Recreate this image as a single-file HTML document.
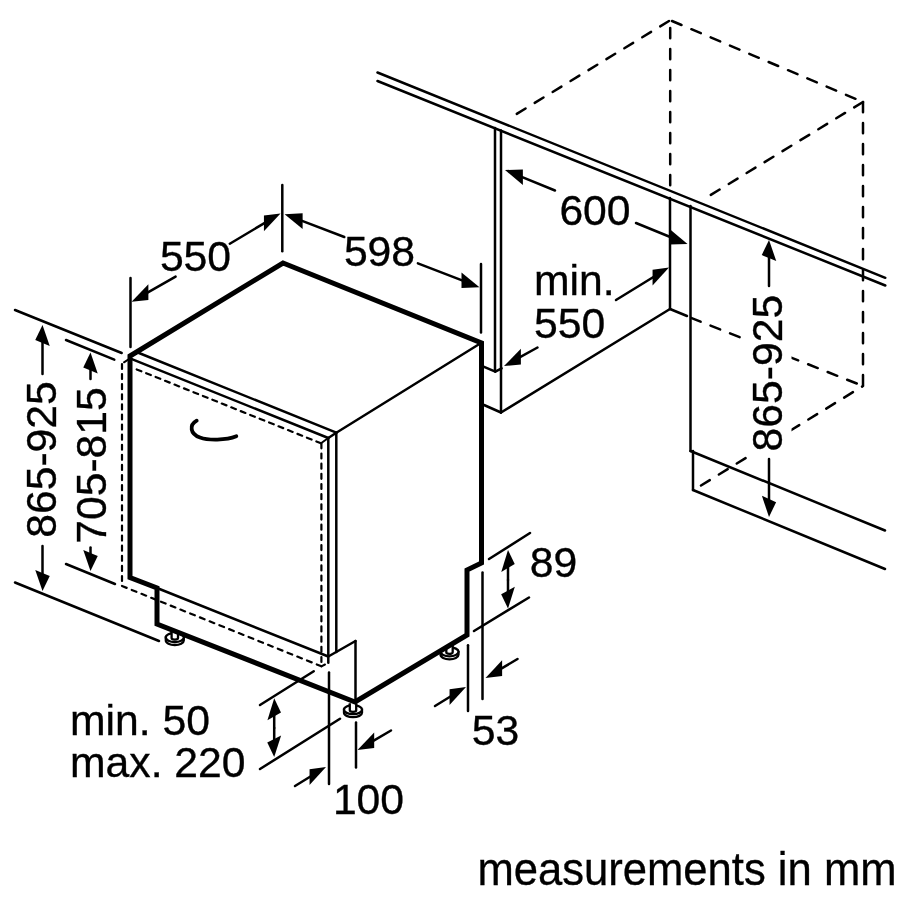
<!DOCTYPE html>
<html><head><meta charset="utf-8"><style>html,body{margin:0;padding:0;background:#fff;}svg{display:block;will-change:transform}</style></head>
<body><svg width="900" height="900" viewBox="0 0 900 900" stroke="#000" fill="#000" font-family="Liberation Sans, sans-serif">
<g fill="none">
</g>
<g>
<line x1="377.5" y1="72.5" x2="885.3" y2="277.8" stroke-width="2.5" stroke-linecap="round"/>
<line x1="377.5" y1="81" x2="885.3" y2="285.5" stroke-width="2.5" stroke-linecap="round"/>
<line x1="495" y1="128" x2="495" y2="371" stroke-width="2.5" stroke-linecap="round"/>
<line x1="501" y1="130.5" x2="501" y2="412.5" stroke-width="2.5" stroke-linecap="round"/>
<line x1="483.5" y1="366.7" x2="495.3" y2="371.6" stroke-width="2.5" stroke-linecap="round"/>
<line x1="495.3" y1="371.6" x2="501.6" y2="368.4" stroke-width="2.5" stroke-linecap="round"/>
<line x1="484" y1="405" x2="501" y2="412.5" stroke-width="2.5" stroke-linecap="round"/>
<line x1="501" y1="412.5" x2="670" y2="309" stroke-width="2.5" stroke-linecap="round"/>
<line x1="670" y1="198" x2="670" y2="309" stroke-width="2.5" stroke-linecap="round"/>
<line x1="670" y1="309" x2="687" y2="316" stroke-width="2.5" stroke-linecap="round"/>
<line x1="690.5" y1="206" x2="690.5" y2="451" stroke-width="2.5" stroke-linecap="round"/>
<line x1="690.5" y1="451" x2="885" y2="530.5" stroke-width="2.5" stroke-linecap="round"/>
<line x1="693" y1="451" x2="693" y2="490" stroke-width="2.5" stroke-linecap="round"/>
<line x1="693" y1="490" x2="885" y2="569" stroke-width="2.5" stroke-linecap="round"/>
<line x1="669" y1="21" x2="514" y2="115.5" stroke-width="2.5" stroke-linecap="round" stroke-dasharray="10.3 10.7"/>
<line x1="672" y1="21" x2="863" y2="102" stroke-width="2.5" stroke-linecap="round" stroke-dasharray="10.3 10.7"/>
<line x1="670.2" y1="28" x2="670.2" y2="190" stroke-width="2.5" stroke-linecap="round" stroke-dasharray="10.3 10.7"/>
<line x1="863" y1="102" x2="863" y2="386" stroke-width="2.5" stroke-linecap="round" stroke-dasharray="10.3 10.7"/>
<line x1="863" y1="102" x2="709" y2="196" stroke-width="2.5" stroke-linecap="round" stroke-dasharray="10.3 10.7"/>
<line x1="701" y1="485.5" x2="863" y2="386" stroke-width="2.5" stroke-linecap="round" stroke-dasharray="10.3 10.7"/>
<line x1="691" y1="317.9" x2="863" y2="386" stroke-width="2.5" stroke-linecap="round" stroke-dasharray="10.3 10.7"/>
<line x1="555" y1="190.5" x2="521.0068579601052" y2="176.5628117636432" stroke-width="2.5" stroke-linecap="round"/>
<polygon points="505,170 522.86,185.12 522.86,169.52" stroke="none"/>
<line x1="636" y1="223" x2="671.4806156530115" y2="237.46782385850952" stroke-width="2.5" stroke-linecap="round"/>
<polygon points="687.5,244 669.63,244.51 669.63,228.91" stroke="none"/>
<text stroke="#000" stroke-width="0.35" x="595" y="224.5" font-size="42.7" text-anchor="middle" >600</text>
<line x1="616" y1="300" x2="654.2519983232614" y2="276.54358593384916" stroke-width="2.5" stroke-linecap="round"/>
<polygon points="669,267.5 652.55,285.39 652.55,269.79" stroke="none"/>
<line x1="537.5" y1="347.5" x2="519.1441960145104" y2="357.6367872755689" stroke-width="2.5" stroke-linecap="round"/>
<polygon points="504,366 520.89,364.47 520.89,348.87" stroke="none"/>
<text stroke="#000" stroke-width="0.35" x="534" y="295" font-size="42.7" text-anchor="start" >min.</text>
<text stroke="#000" stroke-width="0.35" x="534" y="337.5" font-size="42.7" text-anchor="start" >550</text>
<line x1="769" y1="286" x2="769.0" y2="256.0" stroke-width="2.5" stroke-linecap="round"/>
<polygon points="769,240 776.24,260.90 761.76,255.10" stroke="none"/>
<line x1="769" y1="459" x2="769.0" y2="501.0" stroke-width="2.5" stroke-linecap="round"/>
<polygon points="769,517 776.11,502.20 761.89,495.80" stroke="none"/>
<rect x="744.5" y="292" width="47" height="163" fill="#fff" stroke="none"/>
<text stroke="#000" stroke-width="0.35" x="0" y="0" font-size="42.7" text-anchor="middle" transform="translate(781.6,373.2) rotate(-90)">865-925</text>
<path d="M165.8,637.5 L165.8,640.5 A9 4.5 0 0 0 183.8,640.5 L183.8,637.5 Z" fill="#fff" stroke-width="2.3"/>
<ellipse cx="174.8" cy="637.5" rx="9" ry="4.5" fill="#fff" stroke-width="2.3"/>
<path d="M171.60000000000002,631 L171.60000000000002,638.0 A3.2 1.6 0 0 0 178.0,638.0 L178.0,631" fill="#fff" stroke-width="2.3"/>
<path d="M344,709.7 L344,712.7 A9 4.5 0 0 0 362,712.7 L362,709.7 Z" fill="#fff" stroke-width="2.3"/>
<ellipse cx="353" cy="709.7" rx="9" ry="4.5" fill="#fff" stroke-width="2.3"/>
<path d="M349.8,703.2 L349.8,710.2 A3.2 1.6 0 0 0 356.2,710.2 L356.2,703.2" fill="#fff" stroke-width="2.3"/>
<path d="M440.5,651.8 L440.5,654.8 A9 4.5 0 0 0 458.5,654.8 L458.5,651.8 Z" fill="#fff" stroke-width="2.3"/>
<ellipse cx="449.5" cy="651.8" rx="9" ry="4.5" fill="#fff" stroke-width="2.3"/>
<path d="M446.3,645.3 L446.3,652.3 A3.2 1.6 0 0 0 452.7,652.3 L452.7,645.3" fill="#fff" stroke-width="2.3"/>
<polygon points="130,577.5 130,356 283,263 481.5,343 481.5,563 467,570 467,635 355,702 157,624 157,588" stroke-width="5" stroke-linejoin="miter" fill="none"/>
<line x1="481" y1="343" x2="336.3" y2="432.7" stroke-width="2.5" stroke-linecap="round"/>
<line x1="136.5" y1="352" x2="336.3" y2="432.7" stroke-width="2.5" stroke-linecap="round"/>
<line x1="130" y1="358.4" x2="328.3" y2="438" stroke-width="2.5" stroke-linecap="round"/>
<line x1="328.3" y1="438" x2="336.3" y2="432.7" stroke-width="2.5" stroke-linecap="round"/>
<line x1="336.3" y1="432.7" x2="336.3" y2="652" stroke-width="2.5" stroke-linecap="round"/>
<line x1="328.3" y1="438" x2="328.3" y2="662.7" stroke-width="2.5" stroke-linecap="round"/>
<line x1="157" y1="588" x2="328.3" y2="656.5" stroke-width="2.5" stroke-linecap="round"/>
<line x1="328.3" y1="656.5" x2="355.5" y2="641" stroke-width="2.5" stroke-linecap="round"/>
<line x1="355.5" y1="641" x2="355.5" y2="702" stroke-width="2.5" stroke-linecap="round"/>
<line x1="122" y1="364" x2="122" y2="581" stroke-width="2.2" stroke-linecap="round" stroke-dasharray="5 5.095"/>
<line x1="136.7" y1="369.4" x2="321" y2="443.3" stroke-width="2.2" stroke-linecap="round" stroke-dasharray="5 5.188"/>
<line x1="321.4" y1="443.3" x2="321.4" y2="662" stroke-width="2.2" stroke-linecap="round" stroke-dasharray="5 5.176"/>
<line x1="122" y1="586" x2="321.4" y2="666.3" stroke-width="2.2" stroke-linecap="round" stroke-dasharray="5 5.498"/>
<line x1="321.4" y1="666.3" x2="325" y2="664.5" stroke-width="2" stroke-linecap="round"/>
<line x1="124" y1="362.3" x2="129" y2="359" stroke-width="2" stroke-linecap="round"/>
<line x1="321" y1="443.3" x2="328.3" y2="438" stroke-width="2" stroke-linecap="round"/>
<path d="M196.7,420.7 C189,425 190,434 200,437.5 C208,440.5 226,440.5 236.3,436.3" fill="none" stroke-width="3.8" stroke-linecap="round"/>
<line x1="282.3" y1="185" x2="282.3" y2="251.3" stroke-width="2.5" stroke-linecap="round"/>
<line x1="130.5" y1="278" x2="130.5" y2="347" stroke-width="2.5" stroke-linecap="round"/>
<line x1="229.8" y1="243.7" x2="265.6369948146678" y2="222.35330880861997" stroke-width="2.5" stroke-linecap="round"/>
<polygon points="280.5,213.5 263.92,231.18 263.92,215.58" stroke="none"/>
<line x1="175.6" y1="276.6" x2="146.62690730227445" y2="293.12783242529343" stroke-width="2.5" stroke-linecap="round"/>
<polygon points="131.6,301.7 148.36,299.94 148.36,284.34" stroke="none"/>
<text stroke="#000" stroke-width="0.35" x="195.5" y="271" font-size="42.7" text-anchor="middle" >550</text>
<line x1="481" y1="264" x2="481" y2="332.5" stroke-width="2.5" stroke-linecap="round"/>
<line x1="344.3" y1="237" x2="300.77049643923203" y2="220.44858072312508" stroke-width="2.5" stroke-linecap="round"/>
<polygon points="284.6,214.3 302.64,228.96 302.64,213.36" stroke="none"/>
<line x1="417.9" y1="263.3" x2="463.37141047546777" y2="280.94231672668315" stroke-width="2.5" stroke-linecap="round"/>
<polygon points="479.5,287.2 461.51,288.02 461.51,272.42" stroke="none"/>
<text stroke="#000" stroke-width="0.35" x="379.5" y="266" font-size="42.7" text-anchor="middle" >598</text>
<line x1="489" y1="559" x2="530" y2="533" stroke-width="2.5" stroke-linecap="round"/>
<line x1="474" y1="631" x2="529" y2="597.5" stroke-width="2.5" stroke-linecap="round"/>
<line x1="508" y1="580" x2="508.0" y2="566.0" stroke-width="2.5" stroke-linecap="round"/>
<polygon points="508,550 514.72,564.04 501.28,571.96" stroke="none"/>
<line x1="508" y1="580" x2="508.0" y2="592.5" stroke-width="2.5" stroke-linecap="round"/>
<polygon points="508,608.5 514.83,586.74 501.17,594.26" stroke="none"/>
<text stroke="#000" stroke-width="0.35" x="553.5" y="577" font-size="42.7" text-anchor="middle" >89</text>
<line x1="482.5" y1="572.5" x2="482.5" y2="699" stroke-width="2.5" stroke-linecap="round"/>
<line x1="468" y1="645.2" x2="468" y2="711" stroke-width="2.5" stroke-linecap="round"/>
<line x1="517.5" y1="659" x2="500.37548706844467" y2="669.1676795531109" stroke-width="2.5" stroke-linecap="round"/>
<polygon points="485.5,678 502.10,675.95 502.10,660.35" stroke="none"/>
<line x1="435" y1="706" x2="451.2499983332907" y2="696.0403236021766" stroke-width="2.5" stroke-linecap="round"/>
<polygon points="466,687 449.54,704.89 449.54,689.29" stroke="none"/>
<text stroke="#000" stroke-width="0.35" x="495.5" y="744.5" font-size="42.7" text-anchor="middle" >53</text>
<line x1="329" y1="672.5" x2="329" y2="784" stroke-width="2.5" stroke-linecap="round"/>
<line x1="356" y1="722.5" x2="356" y2="767.5" stroke-width="2.5" stroke-linecap="round"/>
<line x1="295" y1="786" x2="311.2499983332907" y2="776.0403236021766" stroke-width="2.5" stroke-linecap="round"/>
<polygon points="326,767 309.54,784.89 309.54,769.29" stroke="none"/>
<line x1="391" y1="730.5" x2="372.4514622905462" y2="741.2969100099806" stroke-width="2.5" stroke-linecap="round"/>
<polygon points="357.5,750 374.18,748.09 374.18,732.49" stroke="none"/>
<text stroke="#000" stroke-width="0.35" x="368.5" y="813.5" font-size="42.7" text-anchor="middle" >100</text>
<line x1="260" y1="705" x2="313.75" y2="671.25" stroke-width="2.5" stroke-linecap="round"/>
<line x1="260" y1="769" x2="340" y2="718.75" stroke-width="2.5" stroke-linecap="round"/>
<line x1="274.2" y1="728" x2="274.2" y2="714.3" stroke-width="2.5" stroke-linecap="round"/>
<polygon points="274.2,698.3 280.98,712.44 267.42,720.16" stroke="none"/>
<line x1="274.2" y1="728" x2="274.2" y2="741.0" stroke-width="2.5" stroke-linecap="round"/>
<polygon points="274.2,757 281.12,735.40 267.28,742.60" stroke="none"/>
<text stroke="#000" stroke-width="0.35" x="70" y="735" font-size="42.7" text-anchor="start" >min. 50</text>
<text stroke="#000" stroke-width="0.35" x="70" y="777" font-size="42.7" text-anchor="start" >max. 220</text>
<line x1="15" y1="310" x2="121.7" y2="353" stroke-width="2.5" stroke-linecap="round"/>
<line x1="66" y1="340" x2="114.3" y2="359.7" stroke-width="2.5" stroke-linecap="round"/>
<line x1="15" y1="582.5" x2="159" y2="641" stroke-width="2.5" stroke-linecap="round"/>
<line x1="66" y1="564" x2="115" y2="584" stroke-width="2.5" stroke-linecap="round"/>
<line x1="42.5" y1="374" x2="42.5" y2="341.0" stroke-width="2.5" stroke-linecap="round"/>
<polygon points="42.5,325 49.74,345.90 35.26,340.10" stroke="none"/>
<line x1="42.5" y1="546" x2="42.5" y2="575.0" stroke-width="2.5" stroke-linecap="round"/>
<polygon points="42.5,591 49.74,575.90 35.26,570.10" stroke="none"/>
<line x1="90.5" y1="379" x2="90.5" y2="368.5" stroke-width="2.5" stroke-linecap="round"/>
<polygon points="90.5,352.5 97.74,373.40 83.26,367.60" stroke="none"/>
<line x1="90.5" y1="547.5" x2="90.5" y2="555.0" stroke-width="2.5" stroke-linecap="round"/>
<polygon points="90.5,571 97.74,555.90 83.26,550.10" stroke="none"/>
<text stroke="#000" stroke-width="0.35" x="0" y="0" font-size="42.7" text-anchor="middle" transform="translate(56,459.5) rotate(-90)">865-925</text>
<text stroke="#000" stroke-width="0.35" x="0" y="0" font-size="42.7" text-anchor="middle" transform="translate(106,465.5) rotate(-90)">705-815</text>
<text stroke="#000" stroke-width="0.35" x="477.5" y="884.5" font-size="47" text-anchor="start" textLength="419" lengthAdjust="spacingAndGlyphs">measurements in mm</text>
</g>
</svg></body></html>
